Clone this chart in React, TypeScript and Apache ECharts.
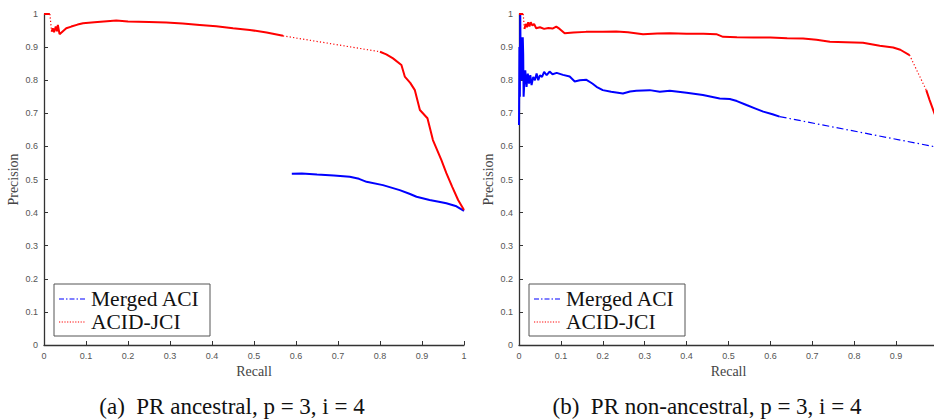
import React, { useEffect, useRef } from "react";
import * as echarts from "echarts";

// ---------- Data (recall, precision) ----------
// (a) PR ancestral
const ancAcidJci1: number[][] = [[0, 1], [0.014, 1]];
const ancAcidJci2: number[][] = [
  [0.018, 0.947], [0.021, 0.957], [0.024, 0.945], [0.028, 0.962], [0.031, 0.948],
  [0.033, 0.967], [0.037, 0.939], [0.045, 0.948], [0.053, 0.957], [0.065, 0.962],
  [0.08, 0.968], [0.093, 0.972], [0.12, 0.975], [0.15, 0.978], [0.172, 0.98],
  [0.2, 0.977], [0.25, 0.976], [0.291, 0.974], [0.33, 0.971], [0.371, 0.967],
  [0.41, 0.963], [0.45, 0.957], [0.49, 0.952], [0.53, 0.944], [0.569, 0.934],
];
const ancAcidJci3: number[][] = [
  [0.8, 0.886], [0.815, 0.878], [0.831, 0.866], [0.851, 0.846], [0.859, 0.811],
  [0.872, 0.792], [0.883, 0.77], [0.895, 0.71], [0.913, 0.685], [0.926, 0.619],
  [0.946, 0.559], [0.958, 0.519], [0.972, 0.478], [0.986, 0.438], [1.0, 0.408],
];
const ancMergedAci: number[][] = [
  [0.59, 0.517], [0.614, 0.518], [0.65, 0.515], [0.69, 0.512], [0.728, 0.508],
  [0.75, 0.502], [0.768, 0.493], [0.807, 0.483], [0.847, 0.468], [0.87, 0.457],
  [0.887, 0.448], [0.918, 0.438], [0.94, 0.433], [0.958, 0.428], [0.98, 0.42],
  [1.0, 0.405],
];

// (b) PR non-ancestral
const nonAcidJci1: number[][] = [[0, 1], [0.01, 1]];
const nonAcidJci2: number[][] = [
  [0.013, 0.955], [0.016, 0.97], [0.019, 0.96], [0.022, 0.975], [0.025, 0.962],
  [0.028, 0.975], [0.032, 0.965], [0.036, 0.97], [0.041, 0.957], [0.05, 0.96],
  [0.06, 0.955], [0.07, 0.958], [0.08, 0.956], [0.089, 0.962], [0.097, 0.955],
  [0.109, 0.942], [0.13, 0.944], [0.16, 0.946], [0.2, 0.946], [0.232, 0.947],
  [0.26, 0.945], [0.296, 0.939], [0.33, 0.941], [0.36, 0.942], [0.4, 0.94],
  [0.44, 0.94], [0.471, 0.939], [0.487, 0.931], [0.52, 0.93], [0.56, 0.929],
  [0.6, 0.929], [0.64, 0.927], [0.678, 0.926], [0.71, 0.922], [0.742, 0.916],
  [0.78, 0.915], [0.821, 0.913], [0.861, 0.904], [0.893, 0.899], [0.91, 0.892],
  [0.932, 0.876],
];
const nonAcidJci3: number[][] = [[0.972, 0.77], [0.98, 0.74], [0.99, 0.705], [1.0, 0.67]];
const nonMergedAci1: number[][] = [
  [0, 0.665], [0.001, 0.9], [0.002, 0.75], [0.003, 1.0], [0.004, 0.85], [0.005, 0.93],
  [0.006, 0.8], [0.007, 0.92], [0.008, 0.85], [0.009, 0.93], [0.01, 0.88], [0.011, 0.75],
  [0.013, 0.8], [0.015, 0.83], [0.018, 0.78], [0.021, 0.82], [0.024, 0.79], [0.027, 0.815],
  [0.03, 0.785], [0.034, 0.81], [0.038, 0.8], [0.042, 0.82], [0.046, 0.8], [0.05, 0.815],
  [0.055, 0.81], [0.06, 0.825], [0.066, 0.815], [0.073, 0.826], [0.08, 0.818], [0.09, 0.822],
  [0.105, 0.816], [0.121, 0.811], [0.133, 0.796], [0.145, 0.8], [0.161, 0.801], [0.175, 0.79],
  [0.185, 0.78], [0.2, 0.77], [0.22, 0.765], [0.248, 0.76], [0.265, 0.766], [0.28, 0.768],
  [0.312, 0.77], [0.336, 0.765], [0.36, 0.768], [0.4, 0.762], [0.439, 0.755], [0.479, 0.745],
  [0.503, 0.743], [0.52, 0.737], [0.543, 0.725], [0.563, 0.715], [0.583, 0.705],
  [0.605, 0.697], [0.622, 0.69],
];
const nonMergedAci2: number[][] = [[1.0, 0.597]];

const xTicks = [0, 0.1, 0.2, 0.3, 0.4, 0.5, 0.6, 0.7, 0.8, 0.9, 1];
const seriesNames = ["Merged ACI", "ACID-JCI"];
const captions = ["(a)  PR ancestral, p = 3, i = 4", "(b)  PR non-ancestral, p = 3, i = 4"];

const RED = "#ff0000";
const BLUE = "#0000ff";
const DOTTED = [1.2, 2.2];
const DASHDOT = [7, 3, 1.5, 3];
const SERIF = "'Liberation Serif', 'Times New Roman', serif";
const SANS = "'Liberation Sans', Arial, sans-serif";

function solid(data: number[][], color: string, axis: number): any {
  return {
    type: "line", xAxisIndex: axis, yAxisIndex: axis, data, showSymbol: false,
    symbol: "none", silent: true,
    lineStyle: { color, width: 2 },
  };
}
function gap(a: number[][], b: number[][], color: string, axis: number, dash: number[]): any {
  return {
    type: "line", xAxisIndex: axis, yAxisIndex: axis,
    data: [a[a.length - 1], b[0]], showSymbol: false, symbol: "none", silent: true,
    lineStyle: { color, width: 1.2, type: dash },
  };
}

function xAxis(gridIndex: number, showMax: boolean): any {
  return {
    type: "value", gridIndex, min: 0, max: 1, interval: 0.1,
    name: "Recall", nameLocation: "middle", nameGap: 18,
    nameTextStyle: { fontFamily: SERIF, fontSize: 14, color: "#444" },
    axisLine: { show: true, lineStyle: { color: "#333", width: 1.3 } },
    axisTick: { show: true, inside: true, length: 4, lineStyle: { color: "#333" } },
    axisLabel: {
      fontFamily: SANS, fontSize: 9, color: "#555", margin: 6, showMaxLabel: showMax,
      formatter: (v: number) => String(xTicks.find((t) => Math.abs(t - v) < 1e-6) ?? v),
    },
    splitLine: { show: false },
  };
}
function yAxis(gridIndex: number): any {
  return {
    type: "value", gridIndex, min: 0, max: 1, interval: 0.1,
    name: "Precision", nameLocation: "middle", nameGap: 24,
    nameTextStyle: { fontFamily: SERIF, fontSize: 14, color: "#444" },
    axisLine: { show: true, lineStyle: { color: "#333", width: 1.3 } },
    axisTick: { show: true, inside: true, length: 4, lineStyle: { color: "#333" } },
    axisLabel: {
      fontFamily: SANS, fontSize: 9, color: "#555", margin: 6,
      formatter: (v: number) => String(Math.round(v * 10) / 10),
    },
    splitLine: { show: false },
  };
}

function legend(left: number, top: number): any[] {
  return [
    { type: "rect", shape: { x: left, y: top, width: 156, height: 52 },
      style: { fill: "#fff", stroke: "#555", lineWidth: 1 }, z: 100 },
    { type: "line", shape: { x1: left + 5, y1: top + 15, x2: left + 32, y2: top + 15 },
      style: { stroke: BLUE, lineWidth: 1.2, lineDash: [5, 2, 1.5, 2] }, z: 101 },
    { type: "line", shape: { x1: left + 5, y1: top + 38, x2: left + 32, y2: top + 38 },
      style: { stroke: RED, lineWidth: 1.2, lineDash: [1.2, 1.5] }, z: 101 },
    { type: "text", x: left + 37, y: top + 15,
      style: { text: seriesNames[0], font: `21.5px ${SERIF}`, fill: "#111", verticalAlign: "middle" }, z: 101 },
    { type: "text", x: left + 37, y: top + 38,
      style: { text: seriesNames[1], font: `21.5px ${SERIF}`, fill: "#111", verticalAlign: "middle" }, z: 101 },
  ];
}

export default function App() {
  const ref = useRef<HTMLDivElement>(null);
  useEffect(() => {
    if (!ref.current) return;
    const chart = echarts.init(ref.current, undefined, { renderer: "svg" });
    chart.setOption({
      animation: false,
      backgroundColor: "#fff",
      grid: [
        { left: 44, top: 14, width: 420, height: 331 },
        { left: 519, top: 14, width: 419, height: 331 },
      ],
      xAxis: [xAxis(0, true), xAxis(1, false)],
      yAxis: [yAxis(0), yAxis(1)],
      series: [
        solid(ancMergedAci, BLUE, 0),
        solid(ancAcidJci1, RED, 0),
        gap(ancAcidJci1, ancAcidJci2, RED, 0, DOTTED),
        solid(ancAcidJci2, RED, 0),
        gap(ancAcidJci2, ancAcidJci3, RED, 0, DOTTED),
        solid(ancAcidJci3, RED, 0),
        solid(nonMergedAci1, BLUE, 1),
        gap(nonMergedAci1, nonMergedAci2, BLUE, 1, DASHDOT),
        solid(nonAcidJci1, RED, 1),
        gap(nonAcidJci1, nonAcidJci2, RED, 1, DOTTED),
        solid(nonAcidJci2, RED, 1),
        gap(nonAcidJci2, nonAcidJci3, RED, 1, DOTTED),
        solid(nonAcidJci3, RED, 1),
      ],
      graphic: [
        ...legend(54, 284),
        ...legend(529, 284),
        { type: "text", x: 232, y: 406,
          style: { text: captions[0], font: `23px ${SERIF}`, fill: "#111", align: "center", verticalAlign: "middle" } },
        { type: "text", x: 707, y: 406,
          style: { text: captions[1], font: `23px ${SERIF}`, fill: "#111", align: "center", verticalAlign: "middle" } },
      ],
    });
    return () => chart.dispose();
  }, []);
  return (
    <div style={{ position: "absolute", left: 0, top: 0, width: 934, height: 419, overflow: "hidden" }}>
      <div ref={ref} style={{ width: 960, height: 419 }} />
    </div>
  );
}
